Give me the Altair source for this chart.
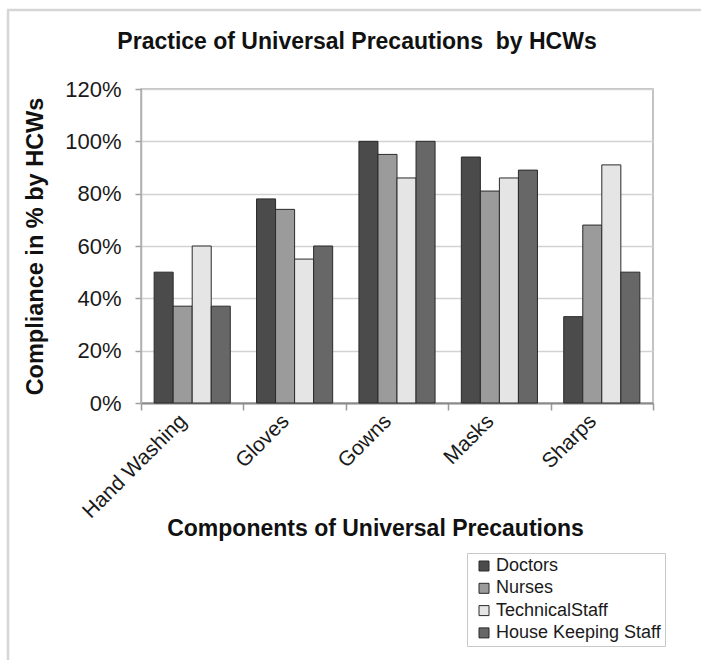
import altair as alt
import pandas as pd

# Compliance (%) with each universal precaution, per staff group
categories = ["Hand Washing", "Gloves", "Gowns", "Masks", "Sharps"]
groups = ["Doctors", "Nurses", "TechnicalStaff", "House Keeping Staff"]
doctors = [50, 78, 100, 94, 33]
nurses = [37, 74, 95, 81, 68]
technical_staff = [60, 55, 86, 86, 91]
house_keeping = [37, 60, 100, 89, 50]
group_colors = ["#4b4b4b", "#9b9b9b", "#e5e5e5", "#676767"]
y_ticks = [0, 20, 40, 60, 80, 100, 120]

series = [doctors, nurses, technical_staff, house_keeping]
rows = []
for g, vals in zip(groups, series):
    for c, v in zip(categories, vals):
        rows.append({"component": c, "group": g, "compliance": v})
df = pd.DataFrame(rows)

FONT = "Liberation Sans"

bars = alt.Chart(df).mark_bar(stroke="#2a2a2a", strokeWidth=1).encode(
    x=alt.X(
        "component:N",
        sort=categories,
        scale=alt.Scale(paddingInner=0, paddingOuter=0),
        axis=alt.Axis(
            title="Components of Universal Precautions",
            titleFont=FONT,
            titleFontSize=23,
            titleFontWeight="bold",
            titleColor="#111111",
            titleAnchor="start",
            titleAlign="center",
            titleBaseline="middle",
            titleX=234,
            titleY=125,
            labelAngle=-45,
            labelFont=FONT,
            labelFontSize=21,
            labelColor="#1a1a1a",
            labelPadding=0,
            labelOffset=-17,
            tickBand="extent",
            tickSize=7,
            tickColor="#9a9a9a",
            tickWidth=1.5,
            domainColor="#8a8a8a",
            domainWidth=2,
            grid=False,
        ),
    ),
    xOffset=alt.XOffset(
        "group:N", sort=groups, scale=alt.Scale(paddingInner=0, paddingOuter=0.69)
    ),
    y=alt.Y(
        "compliance:Q",
        scale=alt.Scale(domain=[0, 120], nice=False),
        axis=alt.Axis(
            title="Compliance in % by HCWs",
            titleFont=FONT,
            titleFontSize=23.5,
            titleFontWeight="bold",
            titleColor="#111111",
            titleAnchor="start",
            titleAlign="center",
            titleBaseline="middle",
            titleX=-106,
            titleY=157,
            values=y_ticks,
            labelExpr="datum.value + '%'",
            labelFont=FONT,
            labelFontSize=22,
            labelColor="#1a1a1a",
            labelPadding=14,
            tickSize=6,
            tickColor="#a0a0a0",
            tickWidth=1.5,
            domainColor="#b0b0b0",
            domainWidth=1.5,
            gridColor="#d2d2d2",
            gridWidth=1.5,
        ),
    ),
    color=alt.Color(
        "group:N",
        sort=groups,
        scale=alt.Scale(domain=groups, range=group_colors),
        legend=alt.Legend(
            title=None,
            orient="none",
            legendX=326,
            legendY=464,
            direction="vertical",
            symbolType="square",
            symbolSize=100,
            symbolStrokeColor="#2a2a2a",
            symbolStrokeWidth=1,
            symbolOffset=4,
            labelOffset=3,
            labelLimit=0,
            labelFont=FONT,
            labelFontSize=18,
            labelColor="#1a1a1a",
            rowPadding=4.3,
            padding=4,
            strokeColor="#c8c8c8",
            fillColor="#ffffff",
        ),
    ),
)

# light frame along the top and left edges of the figure
frame = pd.DataFrame({"k": [0]})
left_edge = alt.Chart(frame).mark_rule(color="#d6d6d6", strokeWidth=2.5).encode(
    x=alt.value(-133), y=alt.value(-79), y2=alt.value(580)
)
top_edge = alt.Chart(frame).mark_rule(color="#d6d6d6", strokeWidth=2.5).encode(
    x=alt.value(-134), x2=alt.value(570), y=alt.value(-79)
)

chart = (
    alt.layer(bars, left_edge, top_edge)
    .properties(
        width=512,
        height=314,
        autosize=alt.AutoSizeParams(type="none"),
        padding={"left": 141, "top": 89, "right": 48, "bottom": 257},
        title=alt.TitleParams(
            text="Practice of Universal Precautions\u00a0 by HCWs",
            font=FONT,
            fontSize=23,
            fontWeight="bold",
            color="#111111",
            anchor="middle",
            frame="group",
            dx=-40,
            offset=-63,
            baseline="alphabetic",
        ),
        background="#ffffff",
    )
    .configure_view(stroke="#b0b0b0", strokeWidth=1.5)
)

chart.save("out.html", embed_options={"renderer": "svg", "actions": False})
